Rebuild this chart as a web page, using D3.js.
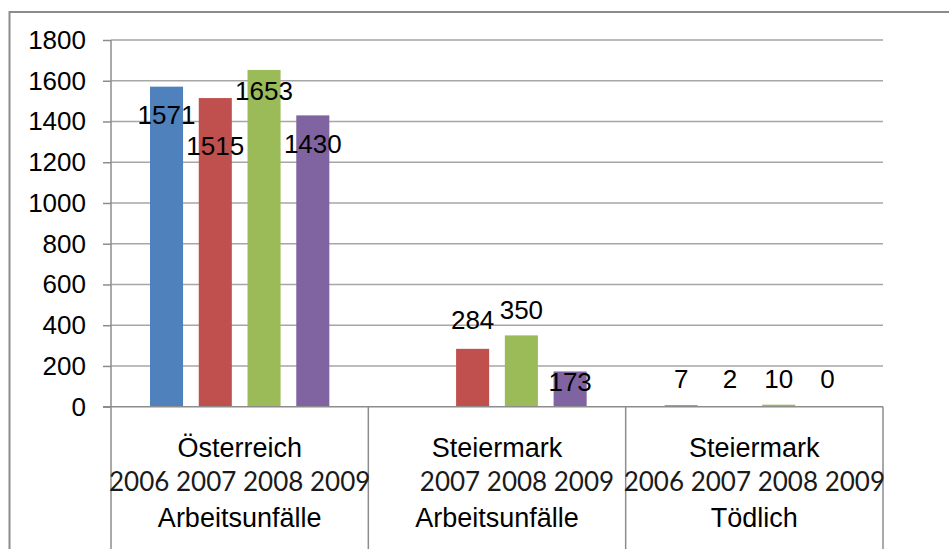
<!DOCTYPE html>
<html>
<head>
<meta charset="utf-8">
<script src="https://cdn.jsdelivr.net/npm/d3@7"></script>
<style>
  html, body { margin: 0; padding: 0; background: #fff; }
  main { width: 949px; height: 549px; }
  text { font-family: "Liberation Sans", Arial, sans-serif; fill: #000; }
  .years { font-family: Lato, "Noto Sans", sans-serif; fill: #1a1a1a; }
</style>
</head>
<body>
<main></main>
<script>
const main = d3.select("main").node();
const width = main.clientWidth;
const height = main.clientHeight;

// categories (three text lines each, as in the original axis)
const catLine1 = ["Österreich", "Steiermark", "Steiermark"];
const catLine2 = ["2006 2007 2008 2009", "\u00a0\u00a0\u00a0\u00a0\u00a0 2007 2008 2009", "2006 2007 2008 2009"];
const catLine3 = ["Arbeitsunfälle", "Arbeitsunfälle", "Tödlich"];

const series = ["2006", "2007", "2008", "2009"];
const values2006 = [1571, null, 7];
const values2007 = [1515, 284, 2];
const values2008 = [1653, 350, 10];
const values2009 = [1430, 173, 0];

// where the data labels sit (in value units) - they were dragged around in the original
const labelAt2006 = [1386, null, 92];
const labelAt2007 = [1236, 381, 92];
const labelAt2008 = [1506, 430, 92];
const labelAt2009 = [1244, 77, 92];

const yTicks = [0, 200, 400, 600, 800, 1000, 1200, 1400, 1600, 1800];

const colors = ["#4F81BD", "#C0504D", "#9BBB59", "#8064A2"];

const allValues = [values2006, values2007, values2008, values2009];
const allLabels = [labelAt2006, labelAt2007, labelAt2008, labelAt2009];

const svg = d3
  .select("main")
  .append("svg")
  .attr("width", width)
  .attr("height", height)
  .attr("viewBox", `0 0 ${width} ${height}`);

// outer chart frame (only top and left are inside the picture)
svg
  .append("path")
  .attr("d", `M9.5,${height + 5}V12H${width + 5}`)
  .attr("fill", "none")
  .attr("stroke", "#8c8c8c")
  .attr("stroke-width", 2);

const plot = { left: 111, right: 883, top: 40, bottom: 406.7 };

const x = d3
  .scaleBand()
  .domain(d3.range(catLine1.length))
  .range([plot.left, plot.right]);

const xInner = d3
  .scaleBand()
  .domain(series)
  .range([0, x.bandwidth()])
  .paddingInner(0.322)
  .paddingOuter(0.8);

const y = d3
  .scaleLinear()
  .domain([0, 1800])
  .range([plot.bottom, plot.top]);

// gridlines
svg
  .append("g")
  .selectAll("line")
  .data(yTicks.slice(1))
  .enter()
  .append("line")
  .attr("x1", plot.left)
  .attr("x2", plot.right)
  .attr("y1", (d) => y(d))
  .attr("y2", (d) => y(d))
  .attr("stroke", "#a6a6a6")
  .attr("stroke-width", 1.5);

// bars
const groups = svg
  .append("g")
  .selectAll("g")
  .data(series)
  .enter()
  .append("g")
  .attr("fill", (_, i) => colors[i]);

groups
  .selectAll("rect")
  .data((s, i) => allValues[i].map((v, c) => ({ v, c, s })))
  .enter()
  .filter((d) => d.v !== null)
  .append("rect")
  .attr("x", (d) => x(d.c) + xInner(d.s))
  .attr("width", xInner.bandwidth())
  .attr("y", (d) => y(d.v))
  .attr("height", (d) => y(0) - y(d.v));

// y axis
const yAxis = d3
  .axisLeft(y)
  .tickValues(yTicks)
  .tickSize(8)
  .tickPadding(17)
  .tickFormat(d3.format("d"));

const yG = svg
  .append("g")
  .attr("transform", `translate(${plot.left}, 0)`)
  .call(yAxis);
yG.select(".domain").remove();
yG.selectAll(".tick line").attr("stroke", "#8c8c8c").attr("stroke-width", 1.5);
yG.selectAll("text")
  .attr("font-family", "Liberation Sans, Arial, sans-serif")
  .attr("font-size", 26)
  .attr("fill", "#000");

// axis lines and category boxes
svg
  .append("line")
  .attr("x1", plot.left)
  .attr("x2", plot.left)
  .attr("y1", plot.top)
  .attr("y2", plot.bottom)
  .attr("stroke", "#8c8c8c")
  .attr("stroke-width", 1.5);

svg
  .append("line")
  .attr("x1", plot.left - 8)
  .attr("x2", plot.right)
  .attr("y1", y(0))
  .attr("y2", y(0))
  .attr("stroke", "#8c8c8c")
  .attr("stroke-width", 1.5);

const edges = d3.range(catLine1.length).map((c) => x(c)).concat([plot.right]);
svg
  .append("g")
  .selectAll("line")
  .data(edges)
  .enter()
  .append("line")
  .attr("x1", (d) => d)
  .attr("x2", (d) => d)
  .attr("y1", y(0))
  .attr("y2", height + 5)
  .attr("stroke", "#8c8c8c")
  .attr("stroke-width", 1.5);

// data labels
groups
  .selectAll("text")
  .data((s, i) => allValues[i].map((v, c) => ({ v, c, s, at: allLabels[i][c] })))
  .enter()
  .filter((d) => d.v !== null)
  .append("text")
  .attr("x", (d) => x(d.c) + xInner(d.s) + xInner.bandwidth() / 2)
  .attr("y", (d) => y(d.at))
  .attr("text-anchor", "middle")
  .attr("font-size", 26)
  .text((d) => d.v);

// category labels
const cats = svg
  .append("g")
  .selectAll("g")
  .data(catLine1)
  .enter()
  .append("g")
  .attr("transform", (_, i) => `translate(${x(i) + x.bandwidth() / 2}, 0)`);

cats
  .append("text")
  .attr("y", 456.5)
  .attr("text-anchor", "middle")
  .attr("font-size", 27)
  .text((d) => d);

cats
  .append("text")
  .attr("class", "years")
  .attr("y", 490.5)
  .attr("text-anchor", "middle")
  .attr("font-size", 26)
  .text((_, i) => catLine2[i]);

cats
  .append("text")
  .attr("y", 527)
  .attr("text-anchor", "middle")
  .attr("font-size", 27)
  .text((_, i) => catLine3[i]);
</script>
</body>
</html>
